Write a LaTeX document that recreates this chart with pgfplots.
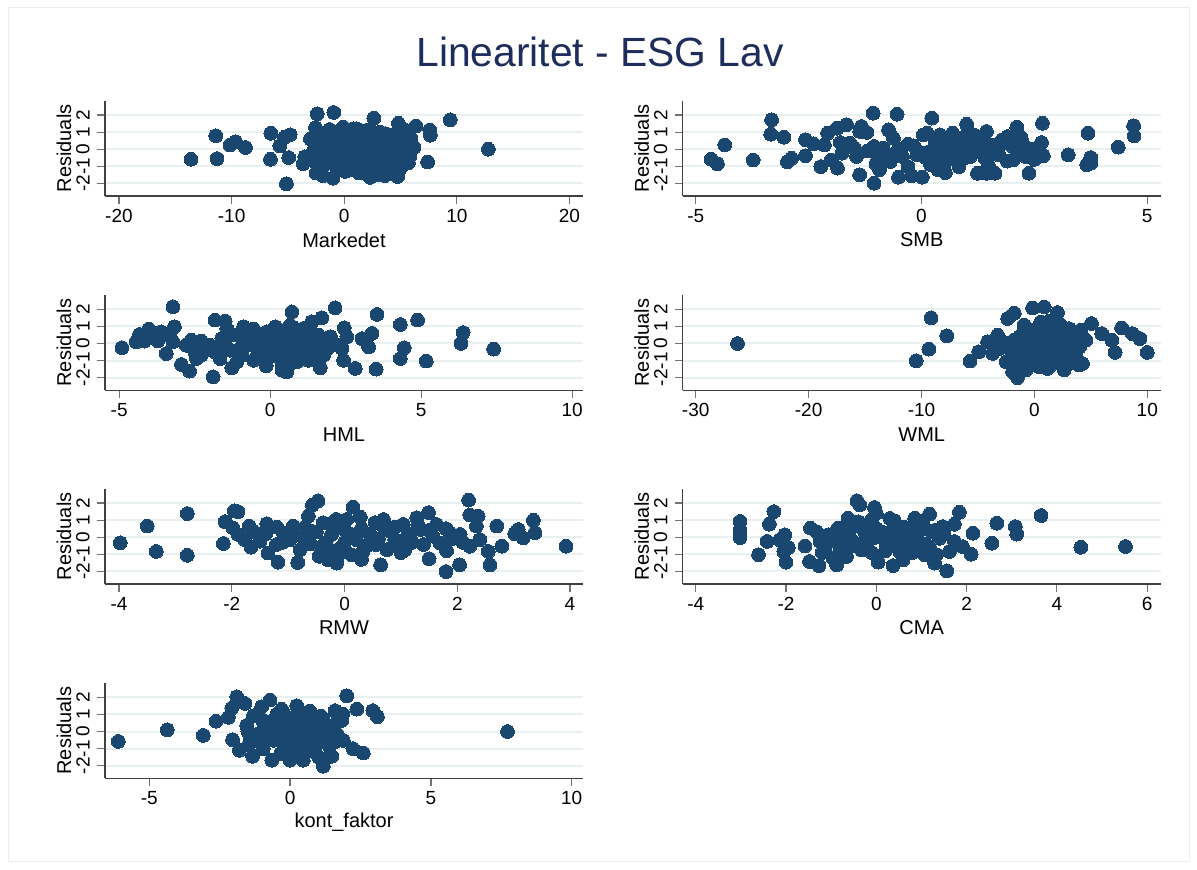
\documentclass[border=0pt]{standalone}
\usepackage{pgfplots}
\pgfplotsset{compat=1.18}
\usepackage{fontspec}
\setmainfont{Liberation Sans}
\definecolor{markc}{RGB}{26,71,111}
\definecolor{titlec}{RGB}{30,45,92}
\definecolor{gridc}{RGB}{232,240,242}
\pgfplotsset{
  panel/.style={
    scale only axis, width=239pt, height=47.65pt, anchor=south west,
    axis lines*=left, axis line style={black!75, line width=0.7pt, -},
    ymin=-2.74, ymax=2.84, ytick={-2,-1,0,1,2},
    ymajorgrids, grid style={draw=gridc, line width=1pt},
    tick align=outside, major tick length=4pt,
    tick style={black!55, line width=0.6pt},
    xtick pos=bottom, ytick pos=left,
    /pgf/number format/assume math mode=true,
    ticklabel style={font=\fontsize{9.5}{11}\selectfont},
    xticklabel style={inner sep=0pt, anchor=north},
    xticklabel shift=2.5pt,
    yticklabel style={rotate=90, inner sep=0pt, anchor=south},
    yticklabel shift=3.5pt,
    label style={font=\fontsize{10}{12}\selectfont},
    ylabel={Residuals},
    every axis y label/.style={at={(axis description cs:-0.0858,0.5)}, rotate=90, anchor=center},
    every axis x label/.style={at={(axis description cs:0.5,-0.4617)}, anchor=center},
    clip=false,
  },
  pts/.style={only marks, mark=*, mark size=3.45pt, mark options={fill=markc, draw=markc, line width=0pt}},
}
\begin{document}
\begin{tikzpicture}[x=0.5pt,y=0.5pt]
\useasboundingbox (0,0) rectangle (1197,870);
\draw[black!7, line width=0.5pt] (8,8) rectangle (1189,862);
\node[font=\fontsize{20.4}{24}\selectfont, text=titlec, anchor=base] at (600,803) {Linearitet - ESG Lav};

% Markedet
\begin{axis}[panel, at={(52.5pt,337pt)}, xmin=-21.24, xmax=21.2, xtick={-20,-10,0,10,20}, xlabel={Markedet}]
\addplot[pts] coordinates {
(-13.6,-0.59) (-11.4,0.79) (-11.3,-0.55) (-10.15,0.24) (-9.65,0.43) (-8.76,0.1)
(-6.52,0.93) (-6.55,-0.59) (-5.72,0.2) (-4.93,-0.49) (-5.13,-2.03) (-5.3,0.7) (-4.8,0.85)
(-3.66,-0.85) (-3.5,-0.45) (-2.39,2.07) (-0.92,2.15) (2.63,1.82) (4.81,1.52) (6.37,1.36)
(7.6,1.12) (7.65,0.82) (9.41,1.72) (12.8,0.0) (7.4,-0.75) (4.75,-1.6) (-1.0,-1.7)
(-2.5,-1.4) (-1.9,-1.55) (-2.55,1.25) (-0.1,1.3) (0.8,1.2) (-1.3,1.15) (5.5,1.1)
(5.9,0.65) (6.2,0.1) (5.8,-0.45) (2.3,-1.65) (3.6,-1.55)
(-3,0.6) (-2.6,0.3) (-2.2,-0.2) (-2.0,0.8) (-1.8,-0.9) (-1.5,0.1) (-1.2,0.5) (-1.0,-0.4)
(-0.8,1.0) (-0.6,-1.1) (-0.4,0.2) (-0.2,-0.6) (0,0.7) (0.2,-0.2) (0.4,1.1) (0.5,-1.2)
(0.7,0.3) (0.9,-0.7) (1.0,0.9) (1.2,-0.1) (1.3,-1.4) (1.5,0.5) (1.7,-0.5) (1.8,1.0)
(2.0,-1.0) (2.1,0.2) (2.3,-0.3) (2.4,0.7) (2.6,-1.5) (2.7,-0.6) (2.9,0.4) (3.0,-0.1)
(3.2,-1.2) (3.3,0.8) (3.5,-0.4) (3.6,0.1) (3.8,-0.9) (4.0,0.5) (4.1,-1.4) (4.3,-0.2)
(4.5,0.9) (4.6,-0.7) (4.8,0.2) (5.0,-1.1) (5.2,0.6) (5.3,-0.3) (5.6,0.3) (5.7,-0.8)
(6.0,0.0) (1.1,0.5) (0.3,0.0) (2.8,-0.9) (3.9,-0.6) (1.6,-0.2) (2.2,0.6) (0.8,-0.3)
(-0.3,-0.1) (3.4,0.3) (4.4,0.1) (1.9,-1.3) (2.5,-1.2) (3.1,-1.5) (0.6,-0.9) (-1.6,-0.6)
(-2.4,-0.9) (-2.8,-0.2) (-0.9,0.5) (1.4,1.1) (2.5,1.0) (3.7,0.9) (4.2,-1.0) (0.1,-1.3) (-0.5,0.9)
(-2.9,-0.6) (-2.1,0.4) (-1.4,-0.3) (-0.7,0.1) (-0.1,0.3) (0.5,0.6) (1.0,-0.5) (1.5,0.0)
(2.0,0.4) (2.6,-0.2) (3.1,0.2) (3.6,-0.7) (4.2,0.5) (4.7,-0.3) (5.4,0.1) (1.3,-0.9)
(0.1,-0.8) (2.9,-0.4) (3.9,-1.2) (4.9,0.6) (-1.1,0.9) (0.7,0.9) (2.7,0.8) (1.8,-0.8)
(5.1,-0.6) (4.6,-1.3) (3.4,-1.0) (-0.4,-0.6) (-2.3,0.0) (1.1,1.2) (2.0,1.1) (3.2,1.0)
};
\end{axis}

% SMB
\begin{axis}[panel, at={(341.35pt,337pt)}, xmin=-5.29, xmax=5.30, xtick={-5,0,5}, xlabel={SMB}]
\addplot[pts] coordinates {
(-4.66,-0.59) (-4.52,-0.86) (-4.36,0.25) (-3.73,-0.63) (-3.32,1.72) (-3.34,0.88) (-3.05,0.70)
(-2.97,-0.74) (-2.88,-0.53) (-2.57,0.55) (-2.57,-0.39) (-2.39,0.31) (-2.23,-1.02) (-2.15,0.25)
(-2.08,0.94) (-2.0,-0.63) (-1.87,1.23) (-1.86,-1.11) (-1.8,0.39) (-1.76,-0.23) (-1.66,1.43)
(-1.59,0.35) (-1.44,-0.43) (-1.37,-1.5) (-1.37,1.04) (-1.33,1.33) (-1.21,0.98) (-1.07,2.11)
(-1.05,-1.99) (-1.05,0.16) (-0.97,-0.63) (-0.93,-1.21) (-0.85,0.06) (-0.73,1.13) (-0.69,-0.72)
(-0.62,0.64) (-0.58,-0.23) (-0.54,2.05) (-0.51,-1.64) (-0.42,-0.43) (-0.3,-1.02) (-0.22,-1.56)
(-0.17,0.2) (-0.1,-0.33) (0.02,-1.64) (0.04,0.84) (0.13,0.94) (0.17,-0.14) (0.23,1.82)
(0.31,-0.63) (0.37,-1.21) (0.41,0.84) (0.45,0.06) (0.53,-1.37) (0.57,-0.63) (0.65,0.45)
(0.69,0.94) (0.73,-0.23) (0.83,-1.02) (0.88,0.25) (0.96,0.74) (1.0,1.46) (1.08,-0.43)
(1.16,0.84) (1.24,-1.41) (1.28,-0.14) (1.36,0.35) (1.44,1.04) (1.44,-1.41) (1.48,-0.92)
(1.55,0.25) (1.63,-1.41) (1.71,-0.33) (1.79,0.55) (1.91,0.74) (2.03,-0.63) (2.11,1.29)
(2.11,-0.04) (2.23,0.45) (2.3,-0.43) (2.38,-1.41) (2.46,0.0) (2.66,0.39) (2.68,1.52)
(2.7,-0.39) (3.25,-0.33) (3.69,0.94) (3.66,-0.92) (3.75,-0.82) (3.75,-0.49) (4.36,0.12)
(4.7,1.37) (4.71,0.78)
(-0.3,0.3) (0.1,-0.5) (0.6,0.1) (0.9,-0.6) (1.2,0.4) (1.6,-0.1) (2.0,0.2) (-0.8,-0.3)
(0.3,0.5) (1.9,-0.7) (2.2,0.7) (-1.2,-0.1) (0.2,-0.9) (1.4,-0.5) (0.7,-0.3)
(-1.0,-0.9) (-0.5,0.0) (0.0,-0.2) (0.5,-0.9) (1.0,0.1) (1.7,0.1) (2.5,-0.6) (-1.5,0.1)
};
\end{axis}

% HML
\begin{axis}[panel, at={(52.5pt,239.85pt)}, xmin=-5.47, xmax=10.36, xtick={-5,0,5,10}, xlabel={HML}]
\addplot[pts] coordinates {
(-4.91,-0.25) (-4.44,0.1) (-4.33,0.53) (-4.17,0.14) (-4.02,0.84) (-3.78,0.59) (-3.72,0.16)
(-3.61,0.68) (-3.44,-0.59) (-3.33,0.45) (-3.22,2.15) (-3.22,0.1) (-3.17,0.98) (-2.94,-1.23)
(-2.78,-0.1) (-2.67,-1.62) (-2.61,0.2) (-2.5,-0.49) (-2.44,-0.88) (-2.28,-0.68) (-2.28,0.14)
(-1.89,-1.95) (-1.83,1.37) (-1.83,-0.49) (-1.66,-0.88) (-1.6,0.29) (-1.49,1.31) (-1.44,0.88)
(-1.33,-0.39) (-1.27,-1.42) (-1.1,-1.07) (-0.94,-0.68) (-0.88,0.98) (-0.88,0.1) (-0.77,0.59)
(-0.55,-0.98) (-0.55,0.84) (-0.44,-0.29) (-0.33,0.29) (-0.13,-1.31) (-0.11,0.68) (0.06,-0.1)
(0.17,0.98) (0.22,-0.49) (0.33,0.39) (0.39,-1.56) (0.44,-0.88) (0.55,-1.66) (0.66,1.07)
(0.72,1.85) (0.72,-0.1) (0.83,0.49) (0.88,-1.07) (1.1,0.88) (1.16,-0.49) (1.27,-0.98)
(1.38,1.27) (1.44,0.29) (1.55,-0.2) (1.66,-1.42) (1.71,1.5) (1.77,-0.68) (1.88,0.1)
(2.15,2.09) (2.21,-0.1) (2.38,-0.29) (2.43,-0.98) (2.45,0.92) (2.54,0.39) (2.82,-1.46)
(3.04,0.29) (3.26,-0.2) (3.37,0.59) (3.51,-1.5) (3.54,1.7) (4.31,1.11) (4.31,-0.88)
(4.44,-0.25) (4.88,1.37) (5.17,-1.03) (6.32,0.0) (6.39,0.64) (7.4,-0.33)
(0.0,0.3) (0.3,-0.3) (0.5,0.6) (0.9,-0.4) (1.2,0.3) (1.0,0.0) (0.6,-0.6) (-0.2,-0.6)
(0.2,0.1) (1.4,-0.5) (-0.5,0.5) (0.4,-1.2) (0.8,0.9) (1.6,0.5) (-1.2,0.5) (-0.3,-0.2)
(-0.1,0.0) (0.5,0.2) (0.7,-0.3) (1.1,-0.2) (1.3,0.6) (0.1,-0.7) (0.9,0.3) (1.5,-0.9)
(-0.6,-0.1) (1.9,-0.3) (0.3,0.8) (-1.0,-0.3) (2.0,0.4) (-1.5,-0.1) (0.6,-1.3) (-2.0,-0.1)
};
\end{axis}

% WML
\begin{axis}[panel, at={(341.35pt,239.85pt)}, xmin=-31.15, xmax=11.19, xtick={-30,-20,-10,0,10}, xlabel={WML}]
\addplot[pts] coordinates {
(-26.29,0.0) (-10.47,-1.01) (-9.15,1.5) (-9.35,-0.33) (-7.76,0.45) (-5.70,-1.03) (-4.93,-0.49)
(-4.14,0.1) (-3.70,-0.58) (-3.26,0.49) (-3.1,-0.29) (-2.51,-1.07) (-2.37,1.46) (-1.93,-1.65)
(-1.78,1.77) (-1.49,-2.0) (-1.34,0.39) (-1.2,-0.58) (-0.9,1.07) (-0.75,-1.55) (-0.6,-0.1)
(-0.31,-1.07) (-0.16,2.08) (0.0,0.68) (0.13,-0.49) (0.43,-1.36) (0.57,1.26) (0.72,0.1)
(0.87,2.14) (1.02,-0.87) (1.16,-1.46) (1.31,0.87) (1.6,-0.29) (1.9,0.39) (2.05,1.81)
(2.19,1.17) (2.34,-0.68) (2.64,-1.55) (2.93,0.1) (3.08,0.87) (3.37,-0.58) (3.81,0.49)
(3.96,-1.26) (4.11,0.78) (4.26,-1.17) (4.55,0.19) (5.05,1.17) (5.96,0.58) (6.86,0.19)
(7.15,-0.52) (7.73,0.91) (8.68,0.58) (9.35,0.29) (10.0,-0.52)
(0,0) (0.5,-0.4) (1,0.4) (1.5,-0.8) (2,0.0) (2.5,0.5) (3,-0.3) (-0.5,0.4) (-1,-0.2)
(0.3,0.9) (1.2,-0.1) (1.8,0.9) (2.8,-0.9) (0.8,-1.1) (-0.2,-0.9) (3.5,0.0) (-1.8,0.2)
(-2.2,-0.3) (0.6,0.5) (2.3,-0.2) (1.4,-1.3) (-0.7,0.9) (3.2,0.4) (4,-0.2) (-2.8,0.1)
(1.7,0.4) (0.9,-0.7) (2.6,0.9) (-1.5,-1) (3.7,-0.8)
(-0.3,0.2) (0.4,-0.1) (1.1,-0.5) (1.6,0.2) (2.2,-0.9) (2.9,-0.8) (-1.0,0.6) (0.2,-1.2)
(1.3,1.3) (3.3,-1.1) (-2.0,-0.8) (2.1,0.7) (-0.6,-0.5) (0.9,0.7) (3.9,0.2) (-1.3,-0.3)
};
\end{axis}

% RMW
\begin{axis}[panel, at={(52.5pt,143pt)}, xmin=-4.25, xmax=4.23, xtick={-4,-2,0,2,4}, xlabel={RMW}]
\addplot[pts] coordinates {
(-3.98,-0.33) (-3.5,0.65) (-3.34,-0.83) (-2.79,1.38) (-2.79,-1.06) (-2.15,-0.37) (-2.12,0.91)
(-1.96,1.54) (-1.89,1.5) (-1.98,0.55) (-1.89,0.16) (-1.77,-0.14) (-1.69,0.65) (-1.66,-0.59)
(-1.5,-0.24) (-1.38,0.79) (-1.36,-0.93) (-1.21,-0.43) (-1.18,-1.46) (-1.09,0.26) (-0.97,-0.14)
(-0.91,0.65) (-0.83,-1.48) (-0.79,-0.73) (-0.73,-0.04) (-0.64,1.24) (-0.59,0.35) (-0.57,1.89)
(-0.47,2.13) (-0.45,-1.12) (-0.38,0.85) (-0.35,-0.33) (-0.29,-1.32) (-0.23,0.16) (-0.15,1.04)
(-0.14,-1.52) (-0.08,-0.63) (0.0,0.45) (0.04,1.04) (0.12,-1.02) (0.15,1.77) (0.21,-0.14)
(0.28,1.18) (0.33,-0.83) (0.45,0.16) (0.54,0.85) (0.56,-0.43) (0.64,-1.62) (0.69,1.04)
(0.75,-0.73) (0.8,0.35) (0.89,-0.14) (1.04,0.75) (1.07,-0.73) (1.16,0.16) (1.28,1.14)
(1.34,0.45) (1.4,-0.43) (1.49,1.44) (1.5,-1.26) (1.57,0.06) (1.63,0.75) (1.69,-0.33)
(1.8,-2.01) (1.81,-0.79) (1.87,0.26) (2.04,-1.62) (2.05,0.16) (2.2,2.17) (2.22,-0.53)
(2.22,1.3) (2.34,0.65) (2.37,1.24) (2.4,-0.14) (2.55,-0.83) (2.58,-1.62) (2.7,0.65)
(2.79,-0.53) (3.02,0.2) (3.08,0.45) (3.17,-0.04) (3.35,0.99) (3.38,0.26) (3.93,-0.53)
(-0.5,0.3) (0,-0.3) (0.3,0.5) (-0.3,-0.6) (0.6,-0.1) (0.9,0.6) (1.2,-0.3) (-1.1,-0.3)
(-0.7,0.6) (0.2,0.0) (-0.1,-1.0) (1.5,0.4) (-1.4,0.2) (0.4,-0.5) (1.0,-0.9)
(-0.9,0.1) (-0.6,-0.4) (-0.2,0.6) (0.1,0.2) (0.5,-0.2) (0.7,0.6) (1.1,0.0) (1.3,0.7)
(1.8,0.5) (2.1,-0.3) (-1.2,0.6) (-0.4,-0.9) (0.3,-1.3) (1.9,-0.1) (-1.6,0.3) (0.9,-0.4)
};
\end{axis}

% CMA
\begin{axis}[panel, at={(341.35pt,143pt)}, xmin=-4.29, xmax=6.30, xtick={-4,-2,0,2,4,6}, xlabel={CMA}]
\addplot[pts] coordinates {
(-3.02,0.92) (-3.02,0.43) (-3.02,-0.02) (-2.61,-1.03) (-2.42,-0.25) (-2.37,0.76) (-2.27,1.5)
(-2.14,-0.16) (-2.03,0.14) (-2.05,-0.84) (-2.0,-1.46) (-1.95,-0.6) (-1.58,-0.51) (-1.48,-1.42)
(-1.46,0.53) (-1.33,0.33) (-1.27,-1.66) (-1.25,-0.25) (-1.14,-0.64) (-1.07,0.14) (-0.96,-1.23)
(-0.88,-1.62) (-0.85,0.53) (-0.77,-0.35) (-0.7,0.14) (-0.66,-1.13) (-0.63,1.11) (-0.55,-0.16)
(-0.48,0.72) (-0.43,2.13) (-0.37,1.89) (-0.33,-0.74) (-0.26,0.33) (-0.21,-0.64) (-0.11,1.01)
(-0.07,-0.06) (-0.04,1.74) (0.0,1.4) (0.04,-1.46) (0.11,0.33) (0.22,-0.45) (0.37,-1.66)
(0.4,0.96) (0.44,0.14) (0.52,-0.84) (0.59,-1.33) (0.66,-0.25) (0.74,0.43) (0.85,1.11)
(0.88,-0.55) (1.03,0.92) (1.07,-1.03) (1.18,1.35) (1.22,0.33) (1.29,-1.52) (1.33,-1.03)
(1.4,-0.06) (1.47,0.62) (1.56,-1.97) (1.62,-0.84) (1.73,0.76) (1.73,-0.25) (1.84,1.46)
(1.91,-0.55) (2.1,-1.0) (2.14,0.23) (2.56,-0.35) (2.67,0.82) (3.08,0.62) (3.11,0.18)
(3.65,1.27) (4.53,-0.59) (5.52,-0.55)
(-0.6,0.4) (-0.3,-0.3) (0,0.5) (0.3,-0.1) (0.6,0.6) (-0.8,-0.7) (0.2,-0.8) (0.9,0.1)
(-0.4,0.9) (1.1,-0.4) (-1.0,-0.2) (0.5,-0.5) (-0.2,0.2) (0.8,-0.9) (1.3,0.4)
(-0.9,0.3) (-0.5,-0.5) (0.1,0.0) (0.4,0.6) (0.7,-0.1) (1.0,0.5) (-0.1,-0.9) (0.6,-1.0)
(-1.2,-0.9) (1.5,0.2) (-0.6,0.9) (0.3,1.1) (1.2,-0.7) (-0.3,0.5)
};
\end{axis}

% kont_faktor
\begin{axis}[panel, at={(52.5pt,45.85pt)}, xmin=-6.57, xmax=10.4, xtick={-5,0,5,10}, xlabel={kont\_faktor}]
\addplot[pts] coordinates {
(-6.1,-0.58) (-4.36,0.1) (-3.08,-0.23) (-2.63,0.6) (-2.19,0.83) (-2.07,1.37) (-2.04,-0.48)
(-1.89,2.03) (-1.8,-1.1) (-1.6,1.64) (-1.54,0.35) (-1.44,-0.71) (-1.33,-1.45) (-1.3,0.93)
(-1.12,-0.14) (-1.01,1.45) (-0.95,-1.0) (-0.77,0.54) (-0.71,1.84) (-0.65,-1.68) (-0.59,-0.52)
(-0.47,1.02) (-0.41,0.06) (-0.33,-1.29) (-0.24,1.12) (-0.12,-0.62) (0.0,-1.68) (0.06,0.44)
(0.18,-1.0) (0.24,1.51) (0.3,-0.14) (0.41,1.02) (0.47,-1.68) (0.57,-0.52) (0.71,0.25)
(0.83,0.93) (0.89,-0.91) (1.01,-1.49) (1.07,-0.14) (1.18,-2.03) (1.18,0.73) (1.3,-0.62)
(1.42,0.25) (1.48,-1.45) (1.6,1.22) (1.66,-0.14) (1.83,0.64) (1.87,1.02) (1.89,-0.52)
(2.01,2.09) (2.23,-1.0) (2.37,1.31) (2.6,-1.26) (2.94,1.22) (3.1,0.87) (7.72,0.0)
(0,0) (-0.3,0.5) (0.3,-0.5) (0.6,0.6) (-0.6,-0.3) (0.9,0.0) (1.2,-0.3) (-0.9,0.3)
(0.2,0.9) (0.5,-1.1) (-0.2,-0.9) (1.0,0.5) (1.4,-0.9) (-1.2,-0.5) (0.8,-0.5) (0.1,0.2)
(-0.5,0.7) (1.5,0.3)
(-1.5,0.0) (-1.0,0.7) (-0.8,-0.5) (-0.4,-0.2) (0.0,0.6) (0.4,0.3) (0.6,-0.9) (1.0,-0.6)
(1.3,0.1) (1.6,-0.6) (-0.1,-1.3) (0.7,1.2) (-0.3,1.3) (1.1,0.9) (0.3,-1.3) (-1.4,-0.4)
(0.9,-1.2) (1.7,0.7) (-0.7,0.0) (0.5,0.0)
};
\end{axis}
\end{tikzpicture}
\end{document}
